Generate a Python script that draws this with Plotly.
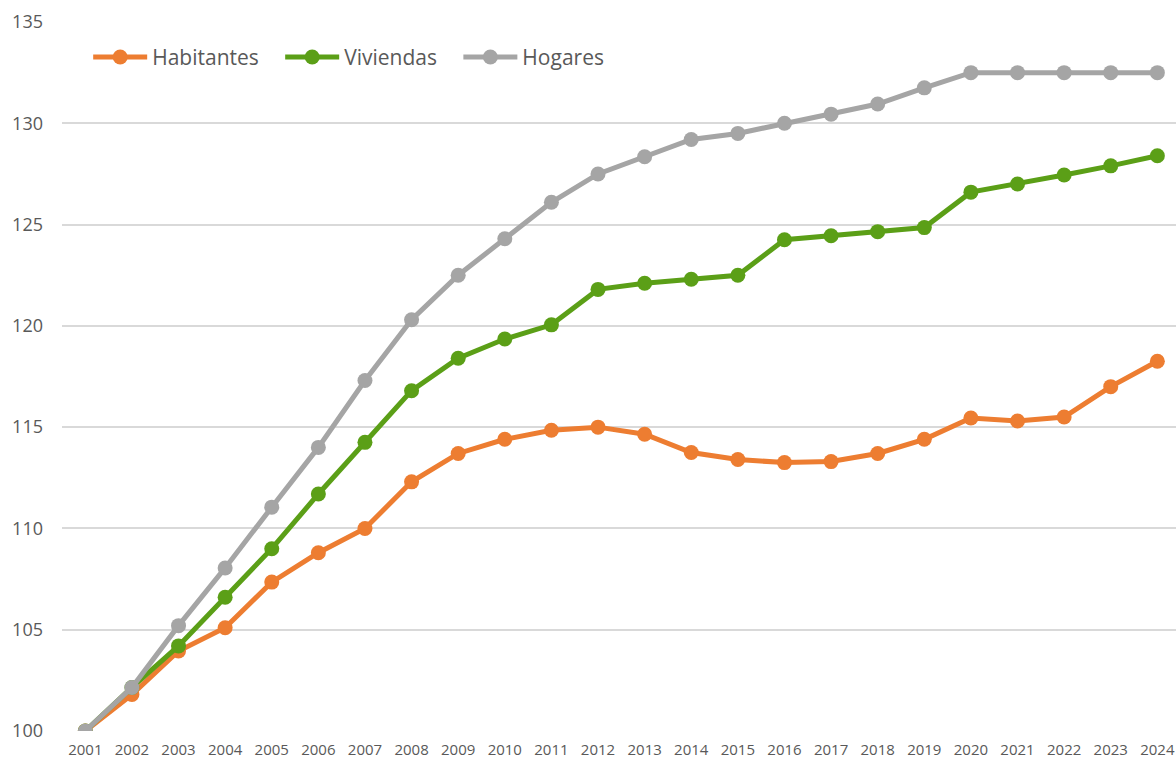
import plotly.graph_objects as go

years = list(range(2001, 2025))

habitantes = [100.0, 101.8, 103.95, 105.1, 107.35, 108.8, 110.0, 112.3, 113.7, 114.4,
              114.85, 115.0, 114.65, 113.75, 113.4, 113.25, 113.3, 113.7, 114.4, 115.45,
              115.3, 115.5, 117.0, 118.25]
viviendas = [100.0, 102.15, 104.2, 106.6, 109.0, 111.7, 114.25, 116.8, 118.4, 119.35,
             120.05, 121.8, 122.1, 122.3, 122.5, 124.25, 124.45, 124.65, 124.85, 126.6,
             127.0, 127.45, 127.9, 128.4]
hogares = [100.0, 102.15, 105.2, 108.05, 111.05, 114.0, 117.3, 120.3, 122.5, 124.3,
           126.1, 127.5, 128.35, 129.2, 129.5, 130.0, 130.45, 130.95, 131.75, 132.5,
           132.5, 132.5, 132.5, 132.5]

series = [
    ("Habitantes", habitantes, "#ED7D31"),
    ("Viviendas", viviendas, "#5B9F17"),
    ("Hogares", hogares, "#A5A5A5"),
]

fig = go.Figure()
for name, vals, color in series:
    fig.add_trace(go.Scatter(
        # trailing nbsp widens the gap between legend entries
        x=years, y=vals, name=name + "\u00a0\u00a0\u00a0", mode="lines+markers",
        line=dict(color=color, width=5),
        marker=dict(color=color, size=15),
    ))

fig.update_layout(
    width=1176, height=762,
    margin=dict(l=62, r=0, t=22, b=31),
    paper_bgcolor="white", plot_bgcolor="white",
    font=dict(family="Open Sans, Liberation Sans, sans-serif", color="#595959"),
    legend=dict(orientation="h", x=0.0235, y=0.979, xanchor="left", yanchor="top",
                font=dict(size=21, color="#595959"), bgcolor="rgba(0,0,0,0)",
                itemwidth=54),
)
fig.update_xaxes(
    range=[2000.5, 2024.4], tickmode="array", tickvals=years,
    ticktext=[str(y) for y in years], tickfont=dict(size=15),
    showgrid=False, zeroline=False, showline=False, ticks="",
    automargin=False, ticklabelstandoff=8,
)
fig.update_yaxes(
    range=[100, 135], dtick=5, tickfont=dict(size=18),
    showgrid=True, gridcolor="#D9D9D9", gridwidth=1.5,
    zeroline=False, showline=False, ticks="", ticklabelstandoff=18,
    automargin=False,
)

# drop the default 8px body margin so the figure fills the window exactly
fig.write_html("out.html", config={"displayModeBar": False},
               post_script="document.body.style.margin='0';")
